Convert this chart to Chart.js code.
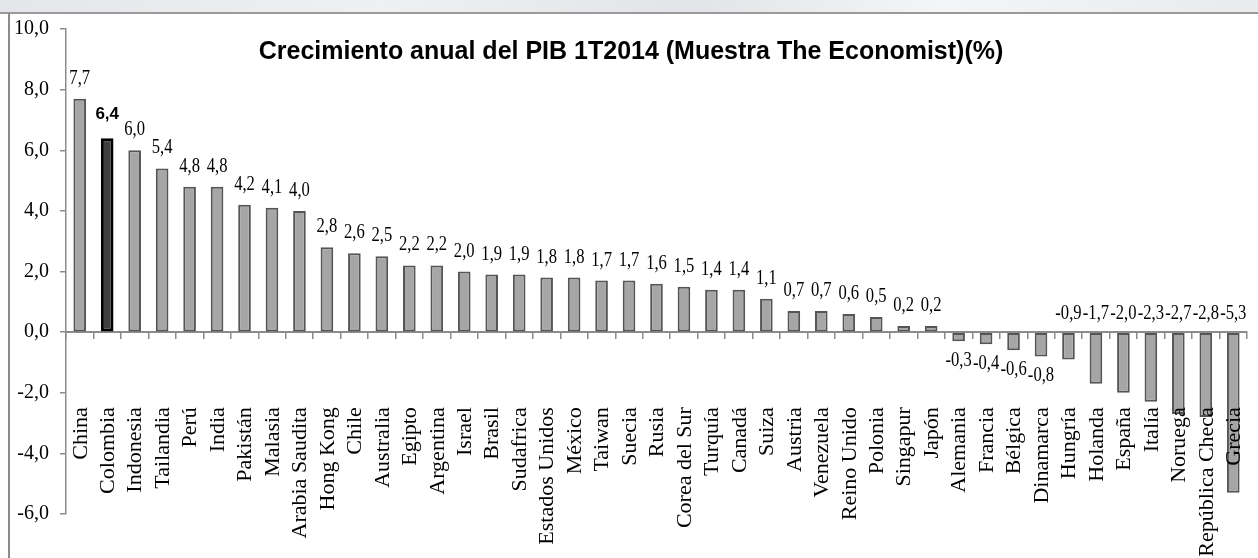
<!DOCTYPE html>
<html><head><meta charset="utf-8">
<script src="https://cdn.jsdelivr.net/npm/chart.js@4/dist/chart.umd.min.js"></script>
<style>
html,body{margin:0;padding:0;background:#fff;width:1258px;height:558px;overflow:hidden;}
#band{position:absolute;left:0;top:0;width:1258px;height:12px;background:linear-gradient(90deg,#e4e6e9,#eef0f2 30%,#e2e4e7 55%,#f4f5f6 75%,#e8eaec);border-bottom:2px solid #9a9a9a;}
#lb{position:absolute;left:8px;top:13px;width:2px;height:545px;background:#8c8c8c;}
#wrap{position:absolute;left:0;top:0;width:1258px;height:558px;}
</style></head><body>
<div id="band"></div><div id="lb"></div>
<div id="wrap"><canvas id="c" width="1258" height="558"></canvas></div>
<script>
const chartTitle = 'Crecimiento anual del PIB 1T2014 (Muestra The Economist)(%)';
const countries = ['China','Colombia','Indonesia','Tailandia','Perú','India','Pakistán','Malasia','Arabia Saudita','Hong Kong','Chile','Australia','Egipto','Argentina','Israel','Brasil','Sudafrica','Estados Unidos','México','Taiwan','Suecia','Rusia','Corea del Sur','Turquía','Canadá','Suiza','Austria','Venezuela','Reino Unido','Polonia','Singapur','Japón','Alemania','Francia','Bélgica','Dinamarca','Hungría','Holanda','España','Italía','Noruega','República Checa','Grecia'];
const growth = [7.7,6.4,6.0,5.4,4.8,4.8,4.2,4.1,4.0,2.8,2.6,2.5,2.2,2.2,2.0,1.9,1.9,1.8,1.8,1.7,1.7,1.6,1.5,1.4,1.4,1.1,0.7,0.7,0.6,0.5,0.2,0.2,-0.3,-0.4,-0.6,-0.8,-0.9,-1.7,-2.0,-2.3,-2.7,-2.8,-5.3];
const highlighted = ['Colombia'];
const yTicksMin = -6, yTicksMax = 10, yTicksStep = 2;

const fmt = v => v.toFixed(1).replace('.', ',');
const isHi = i => highlighted.includes(countries[i]);

const labelPlugin = {
  id: 'customLabels',
  afterDatasetsDraw(chart) {
    const ctx = chart.ctx, xs = chart.scales.x, ys = chart.scales.y;
    const zero = ys.getPixelForValue(0);
    ctx.save();
    ctx.fillStyle = '#000';
    // value labels
    growth.forEach((v, i) => {
      const x = xs.getPixelForValue(i);
      const y = ys.getPixelForValue(v);
      let yb;
      if (v >= 0) yb = y - 15;
      else if (v > -0.85) yb = y + 25;
      else yb = zero - 13;
      ctx.save();
      ctx.translate(x, yb);
      ctx.textAlign = 'center';
      ctx.textBaseline = 'alphabetic';
      if (isHi(i)) {
        ctx.font = 'bold 17px "Liberation Sans", Arial, sans-serif';
        ctx.translate(0, -4);
      } else {
        ctx.scale(0.83, 1);
        ctx.font = '20px "Liberation Serif", "Times New Roman", serif';
      }
      ctx.fillText(fmt(v), 0, 0);
      ctx.restore();
    });
    // category labels
    ctx.font = '22px "Liberation Serif", "Times New Roman", serif';
    countries.forEach((c, i) => {
      const x = xs.getPixelForValue(i);
      ctx.save();
      ctx.translate(x + 1, zero + 75);
      ctx.rotate(-Math.PI / 2);
      ctx.textAlign = 'right';
      ctx.textBaseline = 'middle';
      ctx.fillText(c, 0, 0);
      ctx.restore();
    });
    // title
    ctx.font = 'bold 25px "Liberation Sans", Arial, sans-serif';
    ctx.textAlign = 'center';
    ctx.textBaseline = 'alphabetic';
    ctx.fillText(chartTitle, 631, 59);
    ctx.restore();
  }
};

new Chart(document.getElementById('c'), {
  type: 'bar',
  data: {
    labels: countries,
    datasets: [{
      data: growth,
      backgroundColor: countries.map((c, i) => isHi(i) ? '#3f3f3f' : '#a6a6a6'),
      borderColor: countries.map((c, i) => isHi(i) ? '#000000' : '#555555'),
      borderWidth: countries.map((c, i) => isHi(i) ? 3 : 2),
      borderSkipped: false,
      categoryPercentage: 1,
      barPercentage: 0.46
    }]
  },
  options: {
    responsive: false,
    animation: false,
    devicePixelRatio: 1,
    layout: { padding: { left: 0, top: 29, right: 11, bottom: 44 } },
    plugins: { legend: { display: false }, tooltip: { enabled: false }, title: { display: false } },
    scales: {
      x: {
        position: { y: 0 },
        ticks: { display: false },
        grid: { display: true, offset: true, drawOnChartArea: false, drawTicks: true, tickLength: 6, color: '#8c8c8c', lineWidth: 1.5 },
        border: { display: true, color: '#8c8c8c', width: 2 },
        afterFit(s) { s.height = 0; }
      },
      y: {
        min: yTicksMin, max: yTicksMax,
        ticks: { stepSize: yTicksStep, color: '#000', padding: 11, font: { family: '"Liberation Serif", "Times New Roman", serif', size: 20 }, callback: v => fmt(v) },
        grid: { drawOnChartArea: false, drawTicks: true, tickLength: 6, color: '#8c8c8c', lineWidth: 1.5 },
        border: { display: true, color: '#8c8c8c', width: 1.5 },
        afterFit(s) { s.width = 66; }
      }
    }
  },
  plugins: [labelPlugin]
});
</script>
</body></html>
